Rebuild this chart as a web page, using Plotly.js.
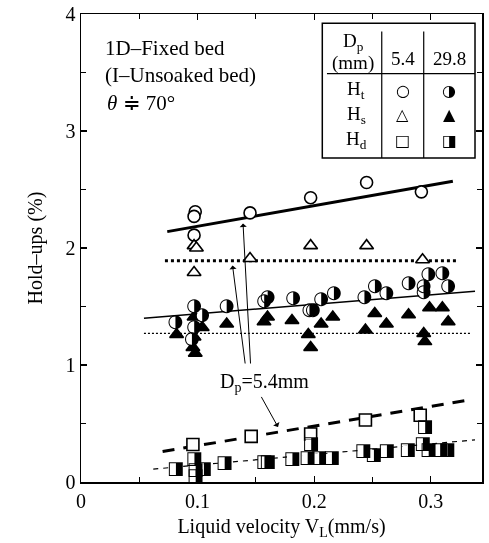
<!DOCTYPE html>
<html>
<head>
<meta charset="utf-8">
<script src="https://cdn.plot.ly/plotly-3.0.1.min.js"></script>
<style>html,body{margin:0;padding:0;background:#fff;}#chart{width:489px;height:543px;will-change:transform;transform:translateZ(0);}
#chart svg text{-webkit-font-smoothing:antialiased;}</style>
</head>
<body>
<div id="chart"></div>
<script>
// ---- data ----
// Dp = 5.4 mm
const ht54X = [0.098, 0.097, 0.097, 0.145, 0.197, 0.245, 0.292];
const ht54Y = [2.31, 2.27, 2.11, 2.30, 2.43, 2.56, 2.48];
const hs54X = [0.097, 0.099, 0.097, 0.145, 0.197, 0.245, 0.293];
const hs54Y = [2.02, 2.00, 1.79, 1.91, 2.02, 2.02, 1.90];
const hd54X = [0.096, 0.146, 0.197, 0.244, 0.291];
const hd54Y = [0.32, 0.39, 0.41, 0.53, 0.57];
// Dp = 29.8 mm
const ht298X = [0.081, 0.097, 0.104, 0.097, 0.095, 0.125, 0.157, 0.160, 0.182, 0.196, 0.199, 0.206, 0.217, 0.243, 0.252, 0.262, 0.281, 0.298, 0.294, 0.294, 0.310, 0.315];
const ht298Y = [1.36, 1.50, 1.42, 1.32, 1.22, 1.50, 1.54, 1.58, 1.57, 1.47, 1.47, 1.56, 1.61, 1.58, 1.67, 1.61, 1.70, 1.77, 1.67, 1.62, 1.78, 1.67];
const hs298X = [0.082, 0.097, 0.104, 0.097, 0.096, 0.098, 0.125, 0.157, 0.160, 0.181, 0.195, 0.197, 0.206, 0.216, 0.244, 0.252, 0.262, 0.281, 0.294, 0.295, 0.299, 0.310, 0.315];
const hs298Y = [1.26, 1.41, 1.32, 1.24, 1.15, 1.10, 1.35, 1.37, 1.41, 1.38, 1.26, 1.15, 1.35, 1.41, 1.30, 1.44, 1.35, 1.43, 1.27, 1.20, 1.49, 1.49, 1.37];
const hd298X = [0.081, 0.097, 0.098, 0.098, 0.105, 0.123, 0.157, 0.160, 0.181, 0.194, 0.197, 0.204, 0.215, 0.242, 0.251, 0.262, 0.280, 0.293, 0.298, 0.295, 0.308, 0.314];
const hd298Y = [0.11, 0.19, 0.10, 0.05, 0.11, 0.16, 0.17, 0.17, 0.19, 0.20, 0.32, 0.20, 0.20, 0.26, 0.23, 0.26, 0.27, 0.32, 0.27, 0.47, 0.27, 0.27];
// fitted lines (end points)
const fitHt54X = [0.074, 0.319];  const fitHt54Y = [2.14, 2.57];
const fitHs54X = [0.072, 0.323];  const fitHs54Y = [1.89, 1.89];
const fitHd54X = [0.070, 0.332];  const fitHd54Y = [0.26, 0.70];
const fitHt298X = [0.054, 0.338]; const fitHt298Y = [1.40, 1.63];
const fitHs298X = [0.054, 0.335]; const fitHs298Y = [1.27, 1.27];
const fitHd298X = [0.062, 0.338]; const fitHd298Y = [0.11, 0.36];
const xTicks = [0, 0.1, 0.2, 0.3];
const xTickText = ['0', '0.1', '0.2', '0.3'];
const yTicks = [0, 1, 2, 3, 4];
const yTickText = ['0', '1', '2', '3', '4'];

const SERIF = 'Liberation Serif, Times New Roman, serif';
const SYM = 'DejaVu Sans, sans-serif';

function lineTrace(x, y, w, dash) {
  return {x: x, y: y, mode: 'lines', line: {color: '#000', width: w, dash: dash}, hoverinfo: 'skip', showlegend: false};
}
function markTrace(x, y, sym, size, fill, lw) {
  return {x: x, y: y, mode: 'markers', showlegend: false,
    marker: {symbol: sym, size: size, color: fill, line: {color: '#000', width: lw}}};
}
function glyphTrace(x, y, glyph, size) {
  return {x: x, y: y, mode: 'text', text: x.map(() => glyph), textposition: 'middle center',
    textfont: {family: SYM, size: size, color: '#000', weight: 'bold'}, showlegend: false, cliponaxis: false};
}

const traces = [
  lineTrace(fitHt54X, fitHt54Y, 3, 'solid'),
  lineTrace(fitHs54X, fitHs54Y, 3, '3px,3px'),
  lineTrace(fitHd54X, fitHd54Y, 3, '12px,9px'),
  lineTrace(fitHt298X, fitHt298Y, 1.5, 'solid'),
  lineTrace(fitHs298X, fitHs298Y, 1.2, '2px,2px'),
  lineTrace(fitHd298X, fitHd298Y, 1.2, '5px,5px'),
  markTrace(ht54X, ht54Y, 'circle', 12, '#fff', 1.6),
  markTrace(hs54X, hs54Y, 'triangle-up', 12, '#fff', 1.6),
  markTrace(hd54X, hd54Y, 'square', 12, '#fff', 1.6),
  markTrace(hs298X, hs298Y, 'triangle-up', 12, '#000', 1.5),
  markTrace(ht298X, ht298Y, 'circle', 11, '#fff', 0),
  glyphTrace(ht298X, ht298Y, '\u25D1', 18),
  markTrace(hd298X, hd298Y, 'square', 10, '#fff', 0),
  glyphTrace(hd298X, hd298Y, '\u25E8', 18)
];

const ann = [];
function txt(x, y, t, size, xanchor, font, weight) {
  ann.push({x: x, y: y, xref: 'x', yref: 'y', text: t, showarrow: false, xanchor: xanchor || 'center', yanchor: 'middle',
    font: {family: font || SERIF, size: size, color: '#000', weight: weight || 'normal'}});
}
txt(0.0185, 3.71, '1D\u2013Fixed bed', 21, 'left');
txt(0.0185, 3.48, '(I\u2013Unsoaked bed)', 21, 'left');
txt(0.021, 3.24, '<i>\u03B8</i> \u2251 70\u00B0', 21, 'left');
// legend table
txt(0.2335, 3.76, 'D<sub>p</sub>', 19);
txt(0.2335, 3.58, '(mm)', 19);
txt(0.276, 3.62, '5.4', 19);
txt(0.316, 3.62, '29.8', 19);
txt(0.236, 3.35, 'H<sub>t</sub>', 19);
txt(0.236, 3.14, 'H<sub>s</sub>', 19);
txt(0.236, 2.92, 'H<sub>d</sub>', 19);
txt(0.276, 3.35, '\u25CB', 16, 'center', SYM, 'bold');
txt(0.316, 3.35, '\u25D1', 16, 'center', SYM, 'bold');
txt(0.276, 3.14, '\u25B3', 16, 'center', SYM, 'bold');
txt(0.316, 3.14, '\u25B2', 16, 'center', SYM, 'bold');
txt(0.276, 2.92, '\u25A1', 16, 'center', SYM, 'bold');
txt(0.316, 2.92, '\u25E8', 16, 'center', SYM, 'bold');
// Dp label and arrows
txt(0.157, 0.85, 'D<sub>p</sub>=5.4mm', 20);
function arrow(x0, y0, x1, y1) {
  ann.push({x: x1, y: y1, ax: x0, ay: y0, xref: 'x', yref: 'y', axref: 'x', ayref: 'y', text: '',
    showarrow: true, arrowhead: 1, arrowsize: 1.2, arrowwidth: 1, arrowcolor: '#000'});
}
arrow(0.1455, 1.00, 0.139, 2.21);
arrow(0.141, 1.00, 0.130, 1.85);
arrow(0.154, 0.74, 0.169, 0.47);

const shapes = [
  {type: 'rect', xref: 'x', yref: 'y', x0: 0.207, x1: 0.338, y0: 2.77, y1: 3.92, line: {color: '#000', width: 1.5}},
  {type: 'line', xref: 'x', yref: 'y', x0: 0.211, x1: 0.338, y0: 3.49, y1: 3.49, line: {color: '#000', width: 1.2}},
  {type: 'line', xref: 'x', yref: 'y', x0: 0.258, x1: 0.258, y0: 2.77, y1: 3.85, line: {color: '#000', width: 1.2}},
  {type: 'line', xref: 'x', yref: 'y', x0: 0.294, x1: 0.294, y0: 2.77, y1: 3.85, line: {color: '#000', width: 1.2}}
];

const layout = {
  width: 489, height: 543,
  margin: {l: 81, r: 7, t: 14, b: 61},
  paper_bgcolor: '#fff', plot_bgcolor: '#fff',
  showlegend: false,
  font: {family: SERIF, size: 19, color: '#000'},
  xaxis: {range: [0, 0.344], tickvals: xTicks, ticktext: xTickText, ticks: 'inside', ticklen: 6, tickwidth: 1.2,
    tickcolor: '#000', showline: true, linecolor: '#000', linewidth: 1.5, mirror: 'ticks', showgrid: false, zeroline: false,
    minor: {tickvals: [0.05, 0.15, 0.25], ticks: 'inside', ticklen: 5, tickwidth: 1, tickcolor: '#000', showgrid: false},
    tickfont: {family: SERIF, size: 20},
    title: {text: 'Liquid velocity V<sub>L</sub>(mm/s)', font: {family: SERIF, size: 20}, standoff: 8}},
  yaxis: {range: [0, 4], tickvals: yTicks, ticktext: yTickText, ticks: 'inside', ticklen: 6, tickwidth: 1.2,
    tickcolor: '#000', showline: true, linecolor: '#000', linewidth: 1.5, mirror: 'ticks', showgrid: false, zeroline: false,
    minor: {tickvals: [0.5, 1.5, 2.5, 3.5], ticks: 'inside', ticklen: 5, tickwidth: 1, tickcolor: '#000', showgrid: false},
    tickfont: {family: SERIF, size: 20},
    title: {text: 'Hold\u2013ups (%)', font: {family: SERIF, size: 20}, standoff: 17}},
  annotations: ann,
  shapes: shapes
};

Plotly.newPlot('chart', traces, layout, {displayModeBar: false, staticPlot: true});
</script>
</body>
</html>
